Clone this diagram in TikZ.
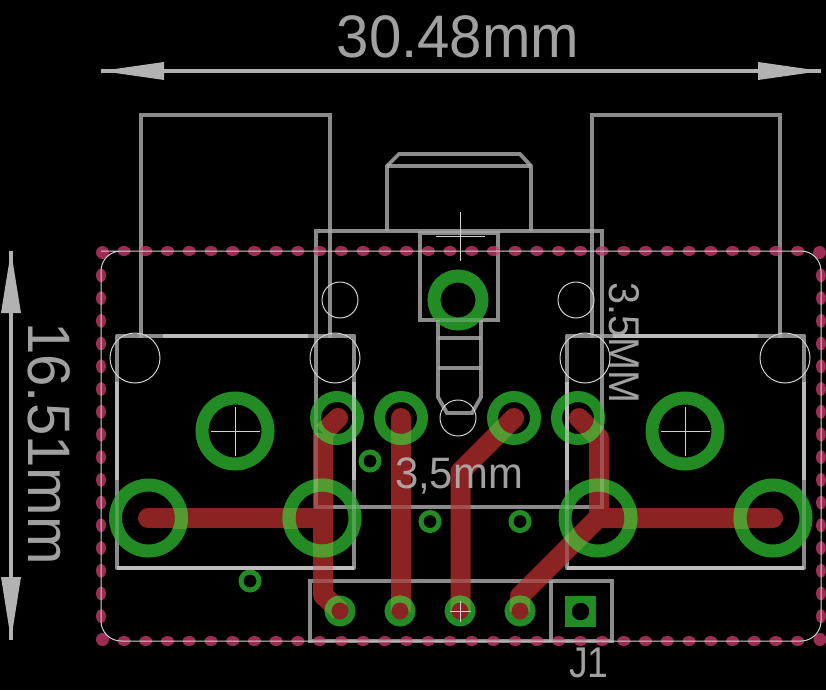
\documentclass[tikz,border=0pt]{standalone}
\usepackage{fontspec}
\usetikzlibrary{calc}
\setmainfont{Liberation Sans}
\definecolor{pcbred}{HTML}{8B2323}
\definecolor{pcbgreen}{HTML}{238B23}
\definecolor{pcbolive}{HTML}{559A30}
\definecolor{pcbpink}{HTML}{9B2D55}
\definecolor{dimbase}{HTML}{6F6F6F}
\definecolor{brightbase}{HTML}{7D7D7D}
\definecolor{dimtext}{HTML}{B2B2B2}
\tikzset{
  thinwire/.style={draw=#1,line width=1pt,fill=none},
  thinwire/.default={white!82!black},
  trace/.style={draw=pcbred,line width=20pt,line cap=round,line join=round},
  bigring/.style={draw=#1,fill=none,line width=13pt},
  midring/.style={draw=#1,fill=none,line width=11pt},
  hdrring/.style={draw=#1,fill=none,line width=6.8pt},
  viaring/.style={draw=pcbgreen,fill=none,line width=5pt},
  dimfront/.style={draw=white,draw opacity=.2},
  brightfront/.style={draw=white,draw opacity=.35},
  dimback/.style={draw=dimbase},
  brightback/.style={draw=brightbase},
  dimension/.style={draw=dimtext,line width=4pt},
  arrowface/.style={fill=dimtext,draw=none},
  label/.style={text=dimtext,inner sep=0pt,text opacity=.9},
}
\newcommand\silk[2]{%
  \path[#1,line width=4.6pt,line cap=rect] (141,336) -- (141,115) -- (330,115) -- (330,336);
  \path[#1,line width=4.6pt,line cap=rect] (592,336) -- (592,115) -- (780,115) -- (780,336);
  \path[#1,line width=4.6pt,line join=round] (117,336) rectangle (354,568);
  \path[#1,line width=4.6pt,line join=round] (567,336) rectangle (804,568);
  \path[#1,line width=3.8pt,line join=miter] (316,231) rectangle (602,507);
  \path[#1,line width=3.8pt,line join=miter] (387,231) -- (387,166) -- (399,154) -- (520,154) -- (531,166) -- (531,231);
  \path[#1,line width=3.8pt] (387,166) -- (531,166);
  \path[#1,line width=4pt] (420,233) rectangle (498,320);
  \path[#1,line width=3.8pt,line join=miter] (438,320) -- (438,397) -- (447,413) -- (472,413) -- (481,397) -- (481,320);
  \path[#1,line width=3.8pt] (438,338) -- (481,338) (438,368) -- (481,368);
  \path[#1,line width=3.8pt] (310,581) rectangle (612,641);
  \path[#1,line width=3.8pt] (551,581) -- (551,641);
  \path[#2,line width=4.6pt] (163,336) -- (308,336) (613,336) -- (758,336);
  \path[#2,line width=4.6pt] (117,382) -- (117,480) (354,382) -- (354,480)
                           (567,382) -- (567,480) (804,382) -- (804,480);
  \path[#2,line width=4.6pt] (117,568) -- (354,568) (567,568) -- (804,568);
}
\newcommand\padrings[1]{%
  \draw[bigring=#1] (148.5,518) circle [radius=33pt];
  \draw[bigring=#1] (322,518) circle [radius=33pt];
  \draw[bigring=#1] (598,518) circle [radius=33pt];
  \draw[bigring=#1] (773,518) circle [radius=33pt];
  \foreach \x in {337,401,514,578}{\draw[midring=#1] (\x,418) circle [radius=21.5pt];}
  \foreach \x in {340,400,460,520}{\draw[hdrring=#1] (\x,611) circle [radius=12.1pt];}
}
\newcommand\overlapseg[2]{%
  \begin{scope}
    \clip ($(#1)!10pt!90:(#2)$) -- ($(#1)!10pt!-90:(#2)$) -- ($(#2)!10pt!90:(#1)$) -- ($(#2)!10pt!-90:(#1)$) -- cycle;
    \padrings{pcbolive}
  \end{scope}
}
\begin{document}
\begin{tikzpicture}[x=1pt,y=-1pt]
\useasboundingbox (0,0) rectangle (826,690);
\fill[black] (0,0) rectangle (826,690);

% silkscreen under the copper
\silk{dimback}{brightback}

% milled board edge, dotted
\foreach \k in {1,...,32}{
  \fill[pcbpink] ({102.3+21.73*\k},251) ellipse [x radius=6.5pt,y radius=5pt];
  \fill[pcbpink] ({102.3+21.73*\k},641) ellipse [x radius=6.5pt,y radius=5pt];
}
\foreach \k in {1,...,16}{
  \fill[pcbpink] (101,{252.7+22.72*\k}) ellipse [x radius=5pt,y radius=6.8pt];
  \fill[pcbpink] (821,{252.7+22.72*\k}) ellipse [x radius=5pt,y radius=6.8pt];
}
\fill[pcbpink] (102.5,252.5) circle [radius=6.5pt];
\fill[pcbpink] (819.5,252.5) circle [radius=6.5pt];
\fill[pcbpink] (102.5,639.5) circle [radius=6.5pt];
\fill[pcbpink] (820,639.5) circle [radius=6.5pt];

% copper traces
\draw[trace] (148,518) -- (323,518);
\draw[trace] (338,418) -- (323,433) -- (323,595) -- (340,611);
\draw[trace] (401,418) -- (401,611);
\draw[trace] (514,418) -- (460.5,471.5) -- (460.5,611);
\draw[trace] (579,418) -- (599,438) -- (599,518);
\draw[trace] (773,518) -- (598,518) -- (520,596) -- (520,611);

% pads
\draw[bigring=pcbgreen] (235,431) circle [radius=33pt];
\draw[bigring=pcbgreen] (685,431) circle [radius=33pt];
\padrings{pcbgreen}
\draw[draw=pcbgreen,fill=none,line width=13pt] (458,300) circle [radius=24pt];
\foreach \x/\y in {370/461,430/521.5,520/521.5,250/581}{\draw[viaring] (\x,\y) circle [radius=9pt];}
\fill[pcbgreen] (565,596) rectangle (596,627);
\fill[black] (580.5,611.5) circle [radius=8.7pt];

% pad over trace
\overlapseg{148,518}{323,518}
\overlapseg{338,418}{323,433}
\overlapseg{323,433}{323,595}
\overlapseg{323,595}{340,611}
\overlapseg{401,418}{401,611}
\overlapseg{514,418}{460.5,471.5}
\overlapseg{460.5,471.5}{460.5,611}
\overlapseg{579,418}{599,438}
\overlapseg{599,438}{599,518}
\overlapseg{773,518}{598,518}
\overlapseg{598,518}{520,596}
\overlapseg{520,596}{520,611}

% silkscreen over the copper
\silk{dimfront}{brightfront}

% fine wires
\draw[thinwire] (101,251) [rounded corners=20pt] -- (821,251) -- (821,641) -- (101,641) -- (101,251) -- (121,251);
\foreach \x in {135,335,585,785}{\draw[thinwire] (\x,358) circle [radius=25pt];}
\foreach \x/\y in {340/300,576/300,458/418}{\draw[thinwire] (\x,\y) circle [radius=18pt];}
\foreach \x/\y/\r in {460/236.5/24.5,235/431.5/24.5,685/431.5/24.5,460/611/10.5}{
  \draw[thinwire] ({\x-\r},\y) -- ({\x+\r},\y) (\x,{\y-\r}) -- (\x,{\y+\r});
}

% dimensions
\coordinate (hl) at (101,71);
\coordinate (hr) at (821,71);
\coordinate (vt) at (11,251);
\coordinate (vb) at (11,640);
\draw[dimension] (hl) -- (hr);
\draw[dimension] (vt) -- (vb);
\fill[arrowface] (hl) -- (164,62) -- (164,80) -- cycle;
\fill[arrowface] (hr) -- (758,62) -- (758,80) -- cycle;
\fill[arrowface] (vt) -- (1,313) -- (21,313) -- cycle;
\fill[arrowface] (vb) -- (1,577) -- (21,577) -- cycle;

% labels
\node[label,font=\fontsize{60}{60}\selectfont,xscale=.97] (width) at (458,36.5) {30.48mm};
\node[label,font=\fontsize{60}{60}\selectfont,rotate=-90,xscale=.97] (height) at (49,443.5) {16.51mm};
\node[label,font=\fontsize{44}{44}\selectfont,xscale=.95] (jackmm) at (459,476) {3,5mm};
\node[label,font=\fontsize{43}{43}\selectfont,rotate=-90,xscale=.92] (jackMM) at (624,343) {3.5MM};
\node[label,font=\fontsize{43}{43}\selectfont,xscale=.87] (jone) at (589,662.5) {J1};
\end{tikzpicture}
\end{document}
